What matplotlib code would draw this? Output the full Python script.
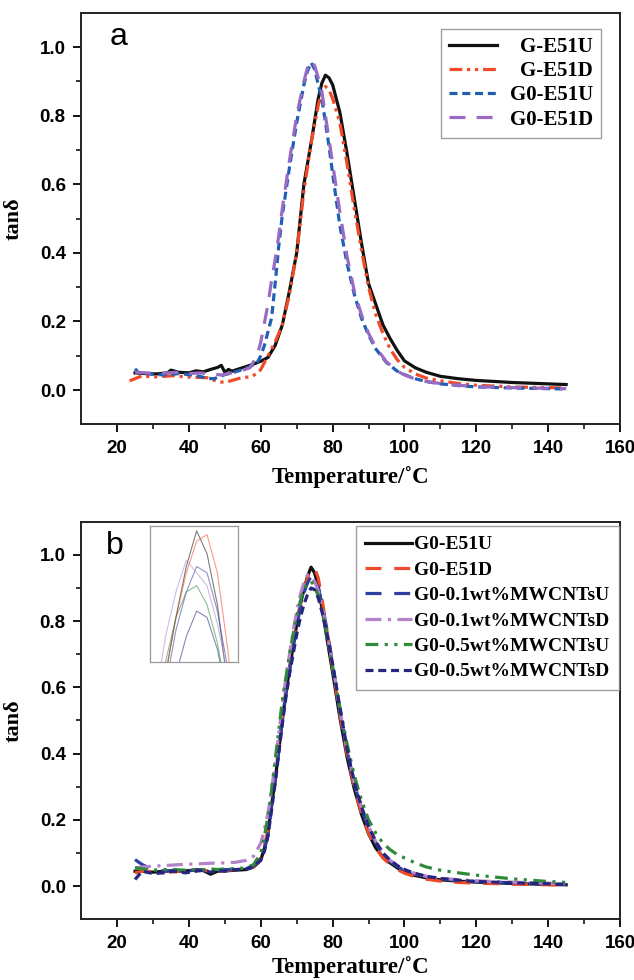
import numpy as np
import matplotlib
matplotlib.use("Agg")
import matplotlib.pyplot as plt

# ---- panel a data ----
t_ge51u = [25, 28, 31, 34, 35, 37, 40, 42, 44, 46, 48, 49, 50, 51, 52, 54, 57, 60, 62, 64, 66, 68, 70, 72, 74, 76,
           77, 78, 79, 80, 82, 84, 86, 88, 90, 92, 94, 96, 98, 100, 103, 106, 110, 115, 120, 130, 140, 145]
v_ge51u = [0.050, 0.048, 0.047, 0.050, 0.058, 0.052, 0.050, 0.056, 0.053, 0.060, 0.066, 0.072, 0.052, 0.060, 0.055,
           0.062, 0.072, 0.084, 0.095, 0.13, 0.19, 0.29, 0.40, 0.60, 0.72, 0.85, 0.895, 0.918, 0.91, 0.89, 0.81, 0.69,
           0.56, 0.43, 0.31, 0.25, 0.19, 0.15, 0.115, 0.085, 0.065, 0.052, 0.040, 0.033, 0.028, 0.022, 0.018, 0.016]

t_ge51d = [23.5, 25, 27, 30, 33, 36, 39, 42, 45, 48, 50, 52, 55, 57, 59, 60, 62, 64, 66, 68, 70, 72, 74, 76, 77, 78,
           79, 80, 82, 84, 86, 88, 90, 92, 94, 96, 98, 100, 103, 106, 110, 115, 120, 130, 140, 145]
v_ge51d = [0.027, 0.033, 0.042, 0.038, 0.040, 0.042, 0.038, 0.037, 0.036, 0.025, 0.022, 0.028, 0.037, 0.038, 0.048,
           0.060, 0.10, 0.14, 0.19, 0.28, 0.40, 0.58, 0.72, 0.83, 0.87, 0.885, 0.875, 0.85, 0.78, 0.66, 0.53, 0.41,
           0.30, 0.22, 0.165, 0.12, 0.088, 0.066, 0.047, 0.035, 0.027, 0.019, 0.014, 0.009, 0.007, 0.006]

t_g0e51u = [25, 26, 28, 31, 34, 37, 40, 43, 45, 47, 50, 52, 55, 57, 59, 60, 61, 62, 63, 64, 65, 66, 68, 70, 72, 73,
            74, 75, 76, 77, 78, 79, 80, 82, 84, 86, 88, 90, 92, 95, 98, 100, 103, 106, 110, 115, 120, 130, 140, 145]
v_g0e51u = [0.062, 0.050, 0.048, 0.045, 0.044, 0.048, 0.045, 0.040, 0.034, 0.033, 0.045, 0.050, 0.060, 0.068, 0.080,
            0.10, 0.13, 0.17, 0.21, 0.31, 0.42, 0.51, 0.65, 0.78, 0.89, 0.93, 0.955, 0.935, 0.89, 0.85, 0.78, 0.71,
            0.63, 0.48, 0.37, 0.28, 0.21, 0.16, 0.12, 0.08, 0.055, 0.045, 0.033, 0.025, 0.018, 0.013, 0.009, 0.006,
            0.004, 0.003]

t_g0e51d = [25, 28, 31, 34, 37, 40, 43, 46, 49, 52, 55, 57, 59, 60, 62, 63, 64, 65, 66, 68, 70, 72, 73, 74.3, 75, 76,
            77, 78, 79, 80, 82, 84, 86, 88, 90, 92, 95, 98, 100, 103, 106, 110, 115, 120, 130, 140, 145]
v_g0e51d = [0.052, 0.050, 0.048, 0.050, 0.052, 0.048, 0.050, 0.047, 0.044, 0.050, 0.058, 0.065, 0.10, 0.14, 0.25,
            0.32, 0.38, 0.45, 0.53, 0.67, 0.80, 0.90, 0.94, 0.96, 0.945, 0.91, 0.87, 0.80, 0.73, 0.66, 0.52, 0.39,
            0.29, 0.22, 0.165, 0.125, 0.082, 0.055, 0.044, 0.032, 0.025, 0.019, 0.014, 0.010, 0.007, 0.005, 0.004]

# ---- panel b data (shared temperature grid) ----
t_b = [25, 27, 30, 33, 36, 39, 42, 44, 46, 48, 50, 53, 56, 58,
       60, 61, 62, 63, 64, 65, 66, 67, 68, 69, 70, 71, 72, 73, 74, 75, 76, 77, 78, 79, 80,
       82, 84, 86, 88, 90, 92, 94, 96, 98, 100, 103, 106, 110, 115, 120, 130, 140, 145]
v_b_e51u = [0.045, 0.045, 0.042, 0.045, 0.044, 0.046, 0.048, 0.047, 0.036, 0.045, 0.046, 0.048, 0.050, 0.058,
            0.078, 0.115, 0.16, 0.245, 0.32, 0.41, 0.50, 0.585, 0.655, 0.725, 0.79, 0.85, 0.895, 0.935, 0.963,
            0.945, 0.905, 0.84, 0.775, 0.71, 0.645,
            0.51, 0.39, 0.295, 0.218, 0.158, 0.115, 0.088, 0.07, 0.055, 0.042, 0.032, 0.025, 0.019, 0.015, 0.012,
            0.008, 0.005, 0.004]
v_b_e51d = [0.040, 0.045, 0.044, 0.046, 0.043, 0.047, 0.050, 0.048, 0.045, 0.044, 0.047, 0.050, 0.052, 0.060,
            0.085, 0.12, 0.17, 0.25, 0.33, 0.42, 0.51, 0.59, 0.66, 0.73, 0.795, 0.85, 0.895, 0.93, 0.955, 0.96,
            0.93, 0.87, 0.80, 0.73, 0.66,
            0.52, 0.40, 0.30, 0.22, 0.16, 0.115, 0.085, 0.065, 0.05, 0.039, 0.028, 0.021, 0.015, 0.011, 0.009,
            0.006, 0.004, 0.003]
v_b_01u = [0.080, 0.065, 0.050, 0.045, 0.048, 0.045, 0.050, 0.048, 0.045, 0.047, 0.050, 0.050, 0.053, 0.062,
           0.085, 0.11, 0.155, 0.24, 0.32, 0.41, 0.50, 0.58, 0.65, 0.72, 0.785, 0.84, 0.885, 0.915, 0.935, 0.93,
           0.90, 0.855, 0.80, 0.74, 0.67,
           0.535, 0.41, 0.31, 0.235, 0.175, 0.13, 0.097, 0.075, 0.059, 0.047, 0.036, 0.029, 0.022, 0.017, 0.014,
           0.010, 0.007, 0.005]
v_b_01d = [0.055, 0.058, 0.060, 0.062, 0.064, 0.066, 0.067, 0.068, 0.069, 0.070, 0.070, 0.072, 0.078, 0.090,
           0.13, 0.17, 0.22, 0.29, 0.37, 0.46, 0.55, 0.63, 0.70, 0.77, 0.83, 0.88, 0.915, 0.94, 0.93, 0.92,
           0.89, 0.85, 0.79, 0.73, 0.67,
           0.535, 0.415, 0.315, 0.24, 0.18, 0.135, 0.10, 0.078, 0.062, 0.05, 0.038, 0.03, 0.024, 0.019, 0.016,
           0.012, 0.009, 0.007]
v_b_05u = [0.055, 0.052, 0.048, 0.050, 0.050, 0.048, 0.050, 0.050, 0.052, 0.050, 0.052, 0.053, 0.055, 0.065,
           0.10, 0.15, 0.21, 0.29, 0.38, 0.47, 0.56, 0.63, 0.70, 0.76, 0.815, 0.86, 0.895, 0.915, 0.92, 0.905,
           0.875, 0.83, 0.78, 0.72, 0.66,
           0.54, 0.43, 0.335, 0.26, 0.20, 0.16, 0.13, 0.11, 0.095, 0.085, 0.07, 0.058, 0.048, 0.04, 0.033,
           0.022, 0.014, 0.011]
v_b_05d = [0.020, 0.045, 0.038, 0.040, 0.045, 0.040, 0.045, 0.048, 0.042, 0.048, 0.045, 0.050, 0.052, 0.058,
           0.08, 0.105, 0.15, 0.23, 0.31, 0.40, 0.49, 0.57, 0.64, 0.70, 0.76, 0.81, 0.85, 0.88, 0.90, 0.895,
           0.87, 0.83, 0.785, 0.73, 0.67,
           0.54, 0.415, 0.315, 0.24, 0.18, 0.135, 0.10, 0.078, 0.062, 0.05, 0.038, 0.03, 0.023, 0.018, 0.014,
           0.010, 0.007, 0.005]

labels_a = ["G-E51U", "G-E51D", "G0-E51U", "G0-E51D"]
labels_b = ["G0-E51U", "G0-E51D", "G0-0.1wt%MWCNTsU", "G0-0.1wt%MWCNTsD",
            "G0-0.5wt%MWCNTsU", "G0-0.5wt%MWCNTsD"]

LW = 2.3
serif = "Liberation Serif"
sans = "Liberation Sans"


def style_axes(ax, xpad):
    ax.set_xlim(10, 160)
    ax.set_ylim(-0.1, 1.1)
    ax.set_xticks(np.arange(20, 161, 20))
    ax.set_xticks(np.arange(30, 151, 20), minor=True)
    ax.set_yticks(np.arange(0, 1.01, 0.2))
    ax.set_yticks(np.arange(0.1, 1.1, 0.2), minor=True)
    ax.yaxis.set_major_formatter(matplotlib.ticker.FormatStrFormatter("%.1f"))
    ax.tick_params(which="major", direction="out", length=6, width=1.3, top=False, right=False, pad=5)
    ax.tick_params(which="minor", direction="out", length=3.5, width=1.1, top=False, right=False)
    for lab in ax.get_xticklabels() + ax.get_yticklabels():
        lab.set_fontfamily(sans)
        lab.set_fontweight("bold")
        lab.set_fontsize(13.5)
    for sp in ax.spines.values():
        sp.set_linewidth(1.4)
        sp.set_color("#222222")
    ax.set_xlabel("Temperature/\u02daC", fontfamily=serif, fontweight="bold", fontsize=16.5, labelpad=xpad)
    ax.set_ylabel("tan\u03b4", fontfamily=serif, fontweight="bold", fontsize=16, labelpad=12)


def right_align(fig, leg):
    # shift each legend label so that all of them end at the same x
    fig.canvas.draw()
    rend = fig.canvas.get_renderer()
    widths = [t.get_window_extent(rend).width for t in leg.get_texts()]
    wmax = max(widths)
    for t, w in zip(leg.get_texts(), widths):
        t.set_position((wmax - w, 0))


fig = plt.figure(figsize=(6.34, 9.8), dpi=100)

# ---------------- panel a ----------------
ax1 = fig.add_axes([0.128, 0.567, 0.850, 0.420])
ax1.plot(t_ge51u, v_ge51u, color="#111111", lw=LW, label=labels_a[0])
ax1.plot(t_ge51d, v_ge51d, color="#f04a28", lw=LW, ls=(0, (4, 1.5, 1, 1.5, 1, 1.5)), label=labels_a[1])
ax1.plot(t_g0e51u, v_g0e51u, color="#1f5fb4", lw=LW, ls=(0, (2.5, 1.5)), label=labels_a[2])
ax1.plot(t_g0e51d, v_g0e51d, color="#9a6bc2", lw=LW, ls=(0, (5, 3.5)), label=labels_a[3])
style_axes(ax1, 7)
ax1.text(0.07, 0.94, "a", transform=ax1.transAxes, fontsize=23, fontfamily=sans, va="center", ha="center")
leg1 = ax1.legend(loc="upper right", bbox_to_anchor=(0.965, 0.961), borderaxespad=0, fancybox=False,
                  edgecolor="#888888", prop={"family": serif, "weight": "bold", "size": 15},
                  handlelength=2.3, handletextpad=0.6, labelspacing=0.2, borderpad=0.4)
leg1.get_frame().set_linewidth(1.0)

# ---------------- panel b ----------------
ax2 = fig.add_axes([0.128, 0.062, 0.850, 0.4056])
series_b = [
    (v_b_e51u, "#111111", "-"),
    (v_b_e51d, "#ef4a2a", (0, (5, 4))),
    (v_b_01u, "#2f3f9f", (0, (5, 4))),
    (v_b_01d, "#b382c8", (0, (5, 2, 1, 2))),
    (v_b_05u, "#2f8a3c", (0, (4, 2, 1, 2, 1, 2))),
    (v_b_05d, "#262680", (0, (2.5, 1.5))),
]
for (vals, col, ls), lab in zip(series_b, labels_b):
    ax2.plot(t_b, vals, color=col, lw=LW, ls=ls, label=lab)
style_axes(ax2, 3)
ax2.text(0.063, 0.94, "b", transform=ax2.transAxes, fontsize=23, fontfamily=sans, va="center", ha="center")
leg2 = ax2.legend(loc="upper right", bbox_to_anchor=(0.998, 0.989), borderaxespad=0, fancybox=False,
                  edgecolor="#888888", prop={"family": serif, "weight": "bold", "size": 14},
                  handlelength=2.4, handletextpad=0.1, labelspacing=0.4, borderpad=0.5)
leg2.get_frame().set_linewidth(1.0)

# inset zoom of the peak
axin = fig.add_axes([0.2366, 0.3245, 0.139, 0.139])
for (vals, col, ls), lab in zip(series_b, labels_b):
    axin.plot(t_b, vals, color=col, lw=0.8, alpha=0.55)
axin.set_xlim(69.5, 78)
axin.set_ylim(0.86, 0.967)
axin.set_xticks([])
axin.set_yticks([])
for sp in axin.spines.values():
    sp.set_color("#999999")
    sp.set_linewidth(0.9)

right_align(fig, leg1)
fig.savefig("out.png", dpi=100)
